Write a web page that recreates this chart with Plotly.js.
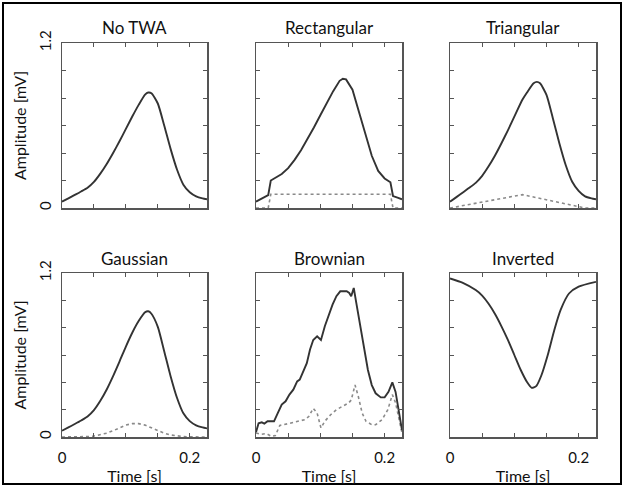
<!DOCTYPE html>
<html><head><meta charset="utf-8">
<script src="https://cdn.plot.ly/plotly-3.0.1.min.js"></script>
<style>html,body{margin:0;padding:0;background:#fff}</style>
</head><body><div id="chart" style="width:624px;height:486px"></div>
<script>
// ---------- data ----------
const panelTitles = ["No TWA", "Rectangular", "Triangular", "Gaussian", "Brownian", "Inverted"];
const xTickVals = [0, 0.05, 0.1, 0.15, 0.2];
const xTickText = ["0", "", "", "", "0.2"];
const yTickVals = [0, 0.2, 0.4, 0.6, 0.8, 1.0, 1.2];
const yTickText = ["0", "", "", "", "", "", "1.2"];

const noTwaT = [0,0.01,0.02,0.03,0.04,0.05,0.06,0.07,0.08,0.09,0.10,0.11,0.12,0.13,0.135,0.14,0.15,0.16,0.17,0.18,0.19,0.20,0.21,0.22,0.227];
const noTwaV = [0.046,0.07,0.095,0.12,0.147,0.19,0.25,0.32,0.40,0.485,0.575,0.665,0.75,0.825,0.84,0.835,0.76,0.60,0.43,0.28,0.17,0.115,0.085,0.07,0.063];

const rectT = [0,0.01,0.019,0.023,0.03,0.04,0.05,0.06,0.07,0.08,0.09,0.10,0.11,0.12,0.13,0.135,0.14,0.15,0.16,0.17,0.18,0.19,0.20,0.209,0.213,0.22,0.227];
const rectV = [0.046,0.07,0.093,0.2,0.22,0.247,0.29,0.35,0.42,0.50,0.585,0.675,0.765,0.85,0.925,0.94,0.935,0.86,0.70,0.53,0.38,0.27,0.215,0.187,0.087,0.075,0.063];
const rectTwaT = [0,0.019,0.023,0.209,0.213,0.227];
const rectTwaV = [0,0,0.1,0.1,0,0];

const triT = [0,0.01,0.02,0.03,0.04,0.05,0.06,0.07,0.08,0.09,0.10,0.1125,0.12,0.13,0.135,0.14,0.15,0.16,0.17,0.18,0.19,0.20,0.21,0.22,0.227];
const triV = [0.046,0.079,0.113,0.147,0.183,0.234,0.303,0.382,0.471,0.565,0.664,0.787,0.842,0.907,0.917,0.907,0.822,0.651,0.471,0.311,0.191,0.125,0.085,0.07,0.063];
const triTwaT = [0,0.1125,0.21,0.227];
const triTwaV = [0,0.097,0,0];

const gaussT = [0,0.01,0.02,0.03,0.04,0.05,0.06,0.07,0.08,0.09,0.10,0.11,0.12,0.13,0.135,0.14,0.15,0.16,0.17,0.18,0.19,0.20,0.21,0.22,0.227];
const gaussV = [0.046,0.07,0.095,0.121,0.15,0.197,0.265,0.348,0.446,0.552,0.662,0.763,0.848,0.912,0.92,0.902,0.806,0.628,0.445,0.287,0.173,0.116,0.085,0.07,0.063];
const gaussTwaT = [0,0.02,0.04,0.05,0.06,0.07,0.08,0.09,0.10,0.11,0.115,0.12,0.13,0.14,0.15,0.16,0.17,0.18,0.19,0.20,0.227];
const gaussTwaV = [0,0,0.003,0.007,0.015,0.028,0.046,0.067,0.087,0.098,0.1,0.098,0.087,0.067,0.046,0.028,0.015,0.007,0.003,0.001,0];

const brownT = [0,0.004,0.009,0.013,0.018,0.028,0.034,0.040,0.046,0.052,0.058,0.064,0.068,0.073,0.079,0.084,0.089,0.095,0.101,0.107,0.113,0.119,0.125,0.131,0.141,0.145,0.148,0.152,0.156,0.162,0.168,0.174,0.180,0.186,0.194,0.200,0.206,0.212,0.217,0.222,0.227];
const brownV = [0.035,0.1,0.107,0.098,0.115,0.115,0.176,0.237,0.261,0.31,0.346,0.407,0.42,0.48,0.54,0.64,0.71,0.737,0.71,0.81,0.895,0.968,1.03,1.066,1.066,1.054,1.03,1.09,0.98,0.81,0.64,0.49,0.38,0.32,0.29,0.29,0.33,0.40,0.33,0.176,0.05];
const brownTwaT = [0,0.008,0.016,0.024,0.03,0.037,0.043,0.052,0.061,0.070,0.076,0.082,0.089,0.095,0.101,0.107,0.116,0.125,0.134,0.144,0.148,0.154,0.159,0.165,0.171,0.180,0.186,0.196,0.205,0.212,0.217,0.223,0.227];
const brownTwaV = [0.03,0.02,0.025,0.005,0.01,0.085,0.09,0.10,0.107,0.115,0.127,0.15,0.21,0.176,0.066,0.115,0.163,0.20,0.224,0.249,0.27,0.38,0.298,0.176,0.115,0.09,0.09,0.127,0.20,0.31,0.25,0.127,0.03];

const invT = [0,0.02,0.04,0.05,0.06,0.07,0.08,0.09,0.10,0.11,0.12,0.127,0.134,0.142,0.152,0.162,0.172,0.185,0.2,0.227];
const invV = [1.16,1.128,1.075,1.035,0.975,0.9,0.81,0.71,0.6,0.49,0.4,0.36,0.372,0.45,0.6,0.78,0.93,1.05,1.1,1.135];

// ---------- layout geometry ----------
const W = 624, H = 486;
const colPx = [[62,207],[256,402],[450,596]];
const rowPx = [[43,208],[273,437]];
const solid = {color:'#333', width:1.9};
const dotted = {color:'#8a8a8a', width:1.6, dash:'dot'};
const font = 'Lato, "Open Sans", sans-serif';

const solidSets = [[noTwaT,noTwaV],[rectT,rectV],[triT,triV],[gaussT,gaussV],[brownT,brownV],[invT,invV]];
const twaSets = [null,[rectTwaT,rectTwaV],[triTwaT,triTwaV],[gaussTwaT,gaussTwaV],[brownTwaT,brownTwaV],null];
const shapes = ['spline','linear','spline','spline','linear','spline'];

const data = [];
const layout = {
  width: W, height: H, margin:{l:0,r:0,t:0,b:0},
  paper_bgcolor:'#fff', plot_bgcolor:'#fff', showlegend:false,
  font:{family:font, color:'#111', size:13},
  annotations: [], shapes: []
};

for (let i = 0; i < 6; i++) {
  const r = Math.floor(i/3), c = i % 3;
  const sfx = i === 0 ? '' : String(i+1);
  const xd = [colPx[c][0]/W, colPx[c][1]/W];
  const yd = [1 - rowPx[r][1]/H, 1 - rowPx[r][0]/H];
  if (twaSets[i]) {
    data.push({x: twaSets[i][0], y: twaSets[i][1], mode:'lines', line: dotted, xaxis:'x'+sfx, yaxis:'y'+sfx, hoverinfo:'skip'});
  }
  data.push({x: solidSets[i][0], y: solidSets[i][1], mode:'lines',
    line: Object.assign({shape: shapes[i], smoothing: 0.6}, solid), xaxis:'x'+sfx, yaxis:'y'+sfx});
  const common = {ticks:'inside', ticklen:4, tickcolor:'#555', tickwidth:1,
    showline:true, linecolor:'#555', linewidth:1.5, mirror:'ticks',
    showgrid:false, zeroline:false, fixedrange:true};
  layout['xaxis'+sfx] = Object.assign({}, common, {
    domain: xd, range:[0,0.227], anchor:'y'+sfx,
    tickmode:'array', tickvals:xTickVals, ticktext:xTickText, ticklabelstandoff:6,
    showticklabels: r === 1, tickfont:{family:font, size:15, color:'#111'},
    title: r === 1 ? {text:'Time [s]', font:{family:font, size:16, color:'#111'}, standoff:6} : {text:''}
  });
  layout['yaxis'+sfx] = Object.assign({}, common, {
    domain: yd, range:[0,1.2], anchor:'x'+sfx,
    tickmode:'array', tickvals:yTickVals, ticktext:yTickText, tickangle:-90, ticklabelstandoff:4,
    showticklabels: c === 0, tickfont:{family:font, size:15, color:'#111'},
    title: c === 0 ? {text:'Amplitude [mV]', font:{family:font, size:16, color:'#111'}, standoff:5} : {text:''}
  });
  layout.annotations.push({text: panelTitles[i], xref:'paper', yref:'paper',
    x:(xd[0]+xd[1])/2, y: 1 - (r === 0 ? 28 : 258)/H, xanchor:'center', yanchor:'middle',
    showarrow:false, font:{family:font, size:17, color:'#111'}});
}
layout.shapes.push({type:'rect', xref:'paper', yref:'paper', x0:3/W, x1:621/W, y0:1-484/H, y1:1-3/H,
  line:{color:'#000', width:2}, fillcolor:'rgba(0,0,0,0)', layer:'above'});

Plotly.newPlot('chart', data, layout, {displayModeBar:false, staticPlot:true});
</script>
</body></html>
